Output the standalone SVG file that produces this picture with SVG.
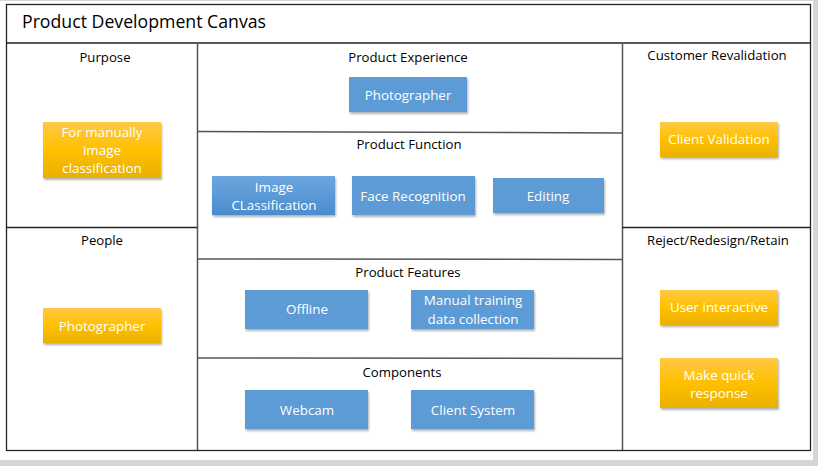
<svg xmlns="http://www.w3.org/2000/svg" width="818" height="466" viewBox="0 0 818 466">
<defs>
<linearGradient id="gy" x1="0" y1="0" x2="0" y2="1">
<stop offset="0" stop-color="#ffc846"/>
<stop offset="0.5" stop-color="#ffc000"/>
<stop offset="1" stop-color="#e9b000"/>
</linearGradient>
<linearGradient id="gb" x1="0" y1="0" x2="0" y2="1">
<stop offset="0" stop-color="#6ca6df"/>
<stop offset="1" stop-color="#4a8ccd"/>
</linearGradient>
<filter id="sh" x="-10%" y="-10%" width="125%" height="140%">
<feDropShadow dx="1" dy="2" stdDeviation="1" flood-color="#000" flood-opacity="0.3"/>
</filter>
</defs>
<style>
.ln{stroke:#222;stroke-width:1.3;fill:none}
.lg{stroke:#555;stroke-width:1.5;fill:none}
.sec{font-family:"Open Sans","Liberation Sans",sans-serif;font-size:13.2px;fill:#000;text-anchor:middle}
.bt{font-family:"Open Sans","Liberation Sans",sans-serif;font-size:13.4px;fill:#fff;text-anchor:middle}
.y{fill:url(#gy);filter:url(#sh)}
.b{fill:#5b9bd5;filter:url(#sh)}
.b2{fill:url(#gb);filter:url(#sh)}
</style>
<rect x="0" y="0" width="818" height="466" fill="#d6d6d6"/>
<rect x="0" y="1" width="813" height="459" fill="#fff"/>
<g id="frame">
<rect x="6.5" y="4.5" width="804" height="446" class="ln"/>
<line x1="6" y1="43" x2="811" y2="43" class="ln"/>
<line x1="197.5" y1="43" x2="197.5" y2="450" class="lg"/>
<line x1="622.5" y1="43" x2="622.5" y2="450" class="lg"/>
<line x1="6" y1="227.5" x2="197" y2="227.5" class="ln"/>
<line x1="622" y1="227.5" x2="811" y2="227.5" class="ln"/>
<line x1="197" y1="131.5" x2="623" y2="133" class="lg"/>
<line x1="197" y1="259" x2="623" y2="259.5" class="lg"/>
<line x1="197" y1="358" x2="623" y2="358.5" class="lg"/>
</g>
<text x="22" y="28" font-family="'Open Sans','Liberation Sans',sans-serif" font-size="17.7" fill="#000">Product Development Canvas</text>
<g id="labels">
<text class="sec" x="105" y="62">Purpose</text>
<text class="sec" x="408" y="62">Product Experience</text>
<text class="sec" x="717" y="60">Customer Revalidation</text>
<text class="sec" x="409" y="149">Product Function</text>
<text class="sec" x="102" y="245">People</text>
<text class="sec" x="718" y="245">Reject/Redesign/Retain</text>
<text class="sec" x="408" y="277">Product Features</text>
<text class="sec" x="402" y="377">Components</text>
</g>
<g id="n-purpose"><rect class="y" x="43" y="122" width="118" height="56"/><text class="bt" x="102" y="137">For manually</text><text class="bt" x="102" y="155">image</text><text class="bt" x="102" y="173">classification</text></g>
<g id="n-exp"><rect class="b" x="349" y="77" width="118" height="35"/><text class="bt" x="408" y="100">Photographer</text></g>
<g id="n-client-val"><rect class="y" x="660" y="122" width="118" height="35"/><text class="bt" x="719" y="144">Client Validation</text></g>
<g id="n-imgcls"><rect class="b2" x="212" y="176" width="123" height="39"/><text class="bt" x="274" y="192">Image</text><text class="bt" x="274" y="210">CLassification</text></g>
<g id="n-face"><rect class="b" x="352" y="176" width="123" height="39"/><text class="bt" x="413" y="201">Face Recognition</text></g>
<g id="n-edit"><rect class="b" x="493" y="178" width="111" height="35"/><text class="bt" x="548" y="201">Editing</text></g>
<g id="n-people"><rect class="y" x="43" y="308" width="118" height="35"/><text class="bt" x="102" y="331">Photographer</text></g>
<g id="n-user"><rect class="y" x="660" y="290" width="118" height="35"/><text class="bt" x="719" y="312">User interactive</text></g>
<g id="n-quick"><rect class="y" x="660" y="358" width="118" height="50"/><text class="bt" x="719" y="380">Make quick</text><text class="bt" x="719" y="398">response</text></g>
<g id="n-offline"><rect class="b" x="245" y="290" width="123" height="39"/><text class="bt" x="307" y="314">Offline</text></g>
<g id="n-manual"><rect class="b" x="411" y="290" width="123" height="39"/><text class="bt" x="473" y="305">Manual training</text><text class="bt" x="473" y="324">data collection</text></g>
<g id="n-webcam"><rect class="b" x="245" y="390" width="123" height="39"/><text class="bt" x="307" y="415">Webcam</text></g>
<g id="n-clientsys"><rect class="b" x="411" y="390" width="123" height="39"/><text class="bt" x="473" y="415">Client System</text></g>
<g id="connectors"></g>
</svg>
